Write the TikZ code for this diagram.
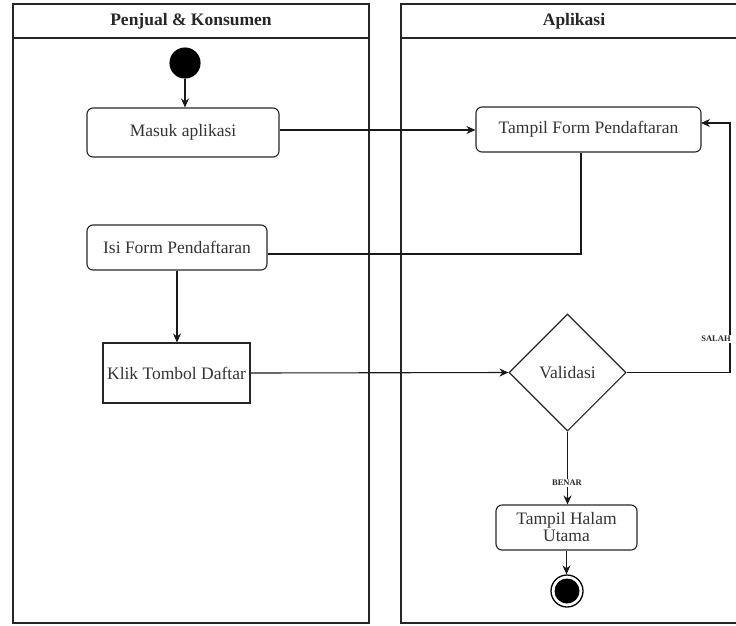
\documentclass[tikz,border=0pt]{standalone}
\usepackage{fontspec}
\setmainfont{Liberation Serif}
\usetikzlibrary{shapes.geometric,arrows.meta,calc}
\begin{document}
\begin{tikzpicture}[x=1pt,y=-1pt,
  line width=1.1pt,
  lane/.style={draw=black!85, line width=1.4pt},
  lanetitle/.style={font=\bfseries\fontsize{17.5}{19}\selectfont, text=black!85},
  act/.style={draw=black!85, rounded corners=6pt, align=center, inner sep=0pt,
    font=\fontsize{17.5}{19}\selectfont, text=black!80},
  plainact/.style={draw=black!85, align=center, inner sep=0pt,
    font=\fontsize{17.5}{19}\selectfont, text=black!80},
  decide/.style={draw=black!85, diamond, aspect=1, inner sep=0pt,
    minimum width=117pt, minimum height=117pt,
    font=\fontsize{17.5}{19}\selectfont, text=black!80},
  guard/.style={font=\bfseries\fontsize{8.5}{9}\selectfont, fill=white,
    inner sep=1pt, text=black!85},
  flow/.style={draw=black!90, line width=1.1pt, -{Stealth[length=9pt,width=8pt]}},
  link/.style={draw=black!90, line width=1.1pt}
]
\useasboundingbox (0,0) rectangle (736,625);
\clip (0,0) rectangle (736,625);

% swimlanes
\draw[lane] (13,4) rectangle (369,623);
\draw[lane] (13,38) -- (369,38);
\draw[lane] (401,4) rectangle (747,623);
\draw[lane] (401,38) -- (747,38);
\node[lanetitle] (laneA) at (191,21) {Penjual \& Konsumen};
\node[lanetitle] (laneB) at (574,21) {Aplikasi};

% activities
\node[circle, fill=black, draw=black, minimum size=30pt, inner sep=0pt] (start) at (185,63) {};
\node[act, minimum width=192pt, minimum height=49pt] (masuk) at (183,132.5) {Masuk aplikasi};
\node[act, minimum width=225pt, minimum height=45pt] (form) at (588.5,129.5) {Tampil Form Pendaftaran};
\node[act, minimum width=180pt, minimum height=45pt] (isi) at (177,247.5) {Isi Form Pendaftaran};
\node[plainact, minimum width=147pt, minimum height=60pt] (klik) at (176.5,373) {Klik Tombol Daftar};
\node[decide] (valid) at (567.5,372.5) {Validasi};
\node[act, minimum width=141pt, minimum height=45pt, font=\fontsize{17.5}{17}\selectfont] (utama) at (566.5,527.5) {Tampil Halam\\Utama};
\node[circle, draw=black, line width=1.3pt, minimum size=32pt, inner sep=0pt] (stop) at (567,591) {};
\node[circle, fill=black, minimum size=25pt, inner sep=0pt] (stopdot) at (stop.center) {};

% routing points
\coordinate (bend1) at (581,254);
\coordinate (bend2) at (730,372.5);
\coordinate (back) at (701,123);

% flows
\draw[flow] (start.south) -- (start.south |- masuk.north);
\draw[flow] (masuk.east |- 0,130) -- (form.west |- 0,130);
\draw[link] (form.south -| bend1) -- (bend1) -- (bend1 -| isi.east);
\draw[flow] (isi.south) -- (isi.south |- klik.north);
\draw[flow] (klik.east) -- (valid.west);
\draw[flow] (valid.east) -- (bend2) -- (bend2 |- back) -- (back);
\draw[flow] (valid.south) -- (valid.south |- utama.north);
\draw[flow] (utama.south) -- (utama.south |- stop.north);

% guards
\node[guard] (salah) at (716,339) {SALAH};
\node[guard] (benar) at (567,483) {BENAR};
\end{tikzpicture}
\end{document}
